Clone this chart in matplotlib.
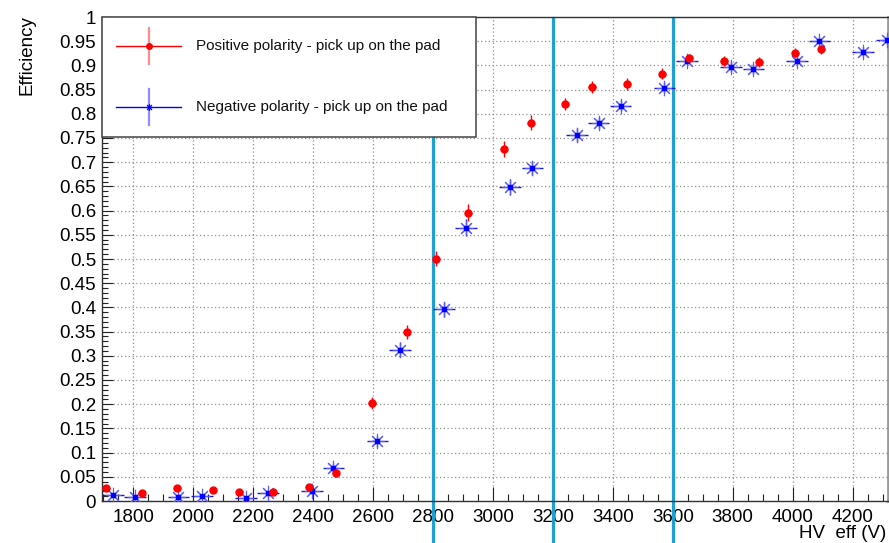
import matplotlib
matplotlib.use("Agg")
import matplotlib.pyplot as plt
from matplotlib.ticker import MultipleLocator, FuncFormatter
from matplotlib.lines import Line2D
from matplotlib.patches import Rectangle

plt.rcParams['font.family'] = ['Liberation Sans', 'DejaVu Sans']

# ---------------- data ----------------
pos_hv = [1709, 1828, 1945, 2064, 2153, 2267, 2386, 2475, 2596, 2712, 2808,
          2918, 3036, 3125, 3241, 3330, 3448, 3565, 3654, 3771, 3888, 4008, 4095]
pos_eff = [0.027, 0.017, 0.026, 0.023, 0.018, 0.019, 0.028, 0.058, 0.203, 0.349, 0.501,
           0.596, 0.727, 0.782, 0.820, 0.856, 0.861, 0.883, 0.915, 0.909, 0.907, 0.926, 0.933]
pos_yerr = [0.006, 0.005, 0.006, 0.005, 0.005, 0.005, 0.006, 0.008, 0.012, 0.015, 0.016,
            0.017, 0.016, 0.015, 0.013, 0.012, 0.012, 0.011, 0.009, 0.010, 0.010, 0.009, 0.009]
pos_xerr = 12

neg_hv = [1733, 1806, 1950, 2028, 2175, 2249, 2395, 2467, 2614, 2690, 2837, 2910,
          3057, 3131, 3280, 3352, 3426, 3572, 3647, 3794, 3869, 4015, 4089, 4234, 4314]
neg_eff = [0.012, 0.009, 0.009, 0.010, 0.007, 0.016, 0.021, 0.069, 0.123, 0.313, 0.396, 0.565,
           0.649, 0.688, 0.756, 0.781, 0.817, 0.854, 0.910, 0.897, 0.893, 0.910, 0.950, 0.928, 0.952]
neg_yerr = [0.005, 0.005, 0.005, 0.005, 0.004, 0.006, 0.007, 0.010, 0.012, 0.015, 0.016, 0.017,
            0.016, 0.015, 0.014, 0.013, 0.012, 0.011, 0.009, 0.010, 0.010, 0.009, 0.008, 0.009, 0.008]
neg_xerr = 36

vlines_hv = [2800, 3200, 3600]

pos_label = "Positive polarity - pick up on the pad"
neg_label = "Negative polarity - pick up on the pad"
x_label = "HV  eff (V)"
y_label = "Efficiency"

RED = '#ff0000'
BLUE = '#0000ff'
CYAN = '#1f9fd2'

# ---------------- figure ----------------
fig = plt.figure(figsize=(8.89, 5.43), dpi=100)
ax = fig.add_axes([102/889, 1-501/543, 786/889, 484/543])

ax.set_xlim(1695, 4318)
ax.set_ylim(0, 1)

ax.xaxis.set_major_locator(MultipleLocator(200))
ax.xaxis.set_minor_locator(MultipleLocator(50))
ax.yaxis.set_major_locator(MultipleLocator(0.05))
ax.yaxis.set_minor_locator(MultipleLocator(0.01))
ax.yaxis.set_major_formatter(FuncFormatter(lambda v, p: '%g' % round(v, 2)))

ax.grid(True, which='major', color='#909090', linestyle=(0, (1, 2)), linewidth=0.9)
ax.set_axisbelow(True)

ax.tick_params(axis='x', which='major', direction='in', length=10, width=0.8,
               labelsize=13.5, pad=6, top=False, color='#222222')
ax.tick_params(axis='x', which='minor', direction='in', length=5, width=0.8,
               top=False, color='#222222')
ax.tick_params(axis='y', which='major', direction='in', length=7.7, width=0.8,
               labelsize=13.5, pad=4.3, right=False, color='#222222')
ax.tick_params(axis='y', which='minor', direction='in', length=4, width=0.8,
               right=False, color='#222222')

for s in ['left', 'bottom', 'top']:
    ax.spines[s].set_color('#333333')
    ax.spines[s].set_linewidth(1.0)
ax.spines['right'].set_color('#9a9a9a')
ax.spines['right'].set_linewidth(2.0)

# vertical cyan lines extending below the axes
for v in vlines_hv:
    ax.plot([v, v], [-0.2, 0.997], color=CYAN, linewidth=2.3, clip_on=False, zorder=2)

# data
ax.errorbar(pos_hv, pos_eff, xerr=pos_xerr, yerr=pos_yerr, fmt='o', color=RED,
            markersize=5, elinewidth=1.0, ecolor=RED, capsize=0, zorder=4)
ax.errorbar(neg_hv, neg_eff, xerr=neg_xerr, yerr=neg_yerr, fmt='none', ecolor='#1a1ad0',
            elinewidth=1.0, capsize=0, zorder=3)
ax.plot(neg_hv, neg_eff, linestyle='none', marker=(8, 2, 0), markersize=11,
        markeredgecolor='#5a5aff', markeredgewidth=0.8, color=BLUE, zorder=3)
ax.plot(neg_hv, neg_eff, linestyle='none', marker='s', markersize=2.2,
        color=BLUE, zorder=3)

# manual legend (ROOT style)
tr = ax.transAxes
leg_l, leg_r, leg_b, leg_t = 0.0, 0.4758, 0.752, 1.0
ax.add_patch(Rectangle((leg_l, leg_b), leg_r - leg_l, leg_t - leg_b, transform=tr,
                       facecolor='white', edgecolor='#444444', linewidth=1.1,
                       zorder=10, clip_on=False))
entries = [(0.940, RED, pos_label), (0.814, BLUE, neg_label)]
sx0, sx1, sxc, text_x = 0.0178, 0.1005, 0.0592, 0.1196
for yc, col, lab in entries:
    ax.add_line(Line2D([sx0, sx1], [yc, yc], transform=tr, color=col, linewidth=1.0,
                       zorder=11, clip_on=False))
    ax.add_line(Line2D([sxc, sxc], [yc - 0.037, yc + 0.037], transform=tr, color=col,
                       linewidth=1.6, alpha=0.45, zorder=11, clip_on=False))
    if col == RED:
        ax.add_line(Line2D([sxc], [yc], transform=tr, marker='o', markersize=4,
                           color=RED, zorder=12, clip_on=False))
    else:
        ax.add_line(Line2D([sxc], [yc], transform=tr, marker=(8, 2, 0), markersize=5,
                           markeredgecolor=BLUE, markeredgewidth=0.7, zorder=12, clip_on=False))
    ax.text(text_x, yc, lab, transform=tr, fontsize=11, va='center', ha='left',
            color='#111111', zorder=12)

# axis titles
fig.text(886/889, 1-534/543, x_label, ha='right', va='center', fontsize=13.5)
fig.text(27/889, 1-15/543, y_label, ha='center', va='top', rotation=90, fontsize=13.5)

fig.savefig('out.png', dpi=100)
